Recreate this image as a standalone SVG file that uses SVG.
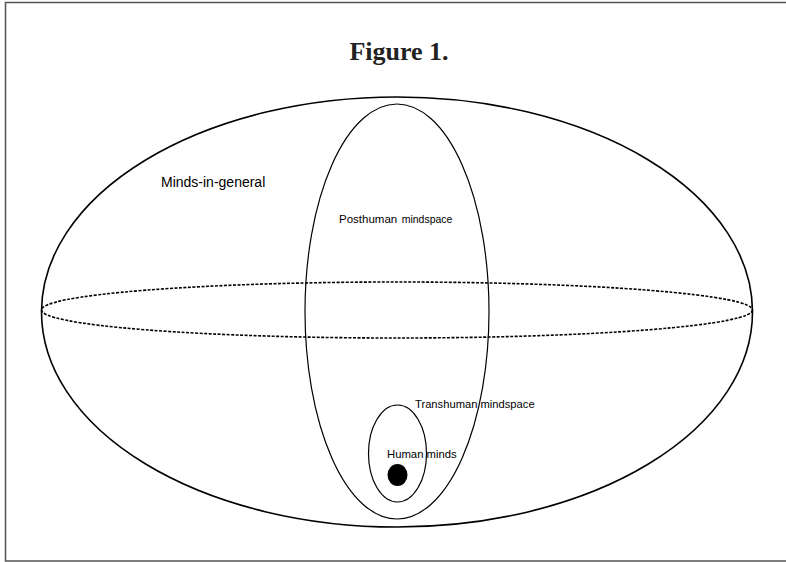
<svg xmlns="http://www.w3.org/2000/svg" width="786" height="562" viewBox="0 0 786 562">
<style>
.line{fill:none;stroke:#000;stroke-width:1.2}
.thick{fill:none;stroke:#000;stroke-width:1.6}
.dash{fill:none;stroke:#000;stroke-width:1.6;stroke-dasharray:3 1.5}
.lbl{font-family:"Liberation Sans",Arial,sans-serif;fill:#000}
.title{font-family:"Liberation Serif","Times New Roman",serif;font-weight:bold;font-size:26px;fill:#222}
</style>
<rect x="5.5" y="2.5" width="800" height="558.5" fill="#fff" stroke="#555" stroke-width="1.5"/>
<text class="title" x="399" y="60" text-anchor="middle">Figure 1.</text>
<g id="minds-in-general">
<ellipse class="thick" cx="397" cy="312" rx="355.5" ry="215"/>
<text class="lbl" x="161" y="187" font-size="14">Minds-in-general</text>
</g>
<g id="equator">
<ellipse class="dash" cx="397" cy="310" rx="355.5" ry="28"/>
</g>
<g id="posthuman">
<ellipse class="line" cx="397" cy="311.5" rx="92" ry="207.5"/>
<text class="lbl" x="339" y="223"><tspan font-size="11.5">Posthuman</tspan> <tspan font-size="10.5">mindspace</tspan></text>
</g>
<g id="transhuman">
<ellipse class="line" cx="397.5" cy="453.5" rx="29" ry="48.5"/>
<text class="lbl" x="415" y="408" font-size="11.2">Transhuman mindspace</text>
</g>
<g id="human">
<ellipse cx="397.5" cy="475" rx="10" ry="11" fill="#000"/>
<text class="lbl" x="387" y="458" font-size="11.3">Human minds</text>
</g>
</svg>
